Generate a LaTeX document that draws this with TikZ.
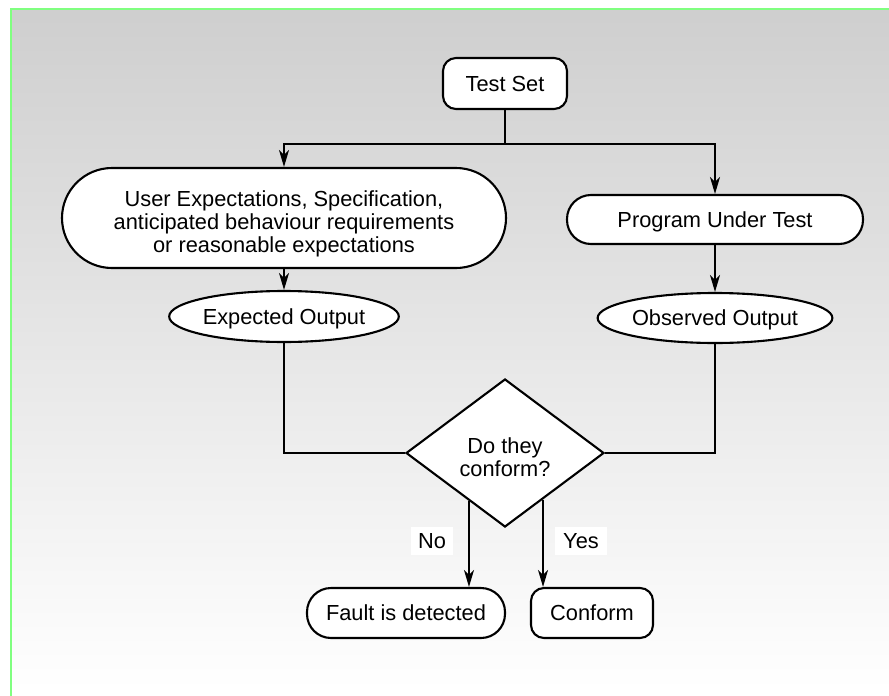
\documentclass[tikz,border=0pt]{standalone}
\usepackage{fontspec}
\setmainfont{Liberation Sans}
\usetikzlibrary{shapes.geometric,arrows.meta,calc}
\definecolor{frameGreen}{RGB}{128,255,128}
\tikzset{
  box/.style={draw=black, fill=white, line width=2.1pt, inner sep=0pt, align=center,
    text depth=0pt, font=\fontsize{21.8}{22.8}\selectfont},
  roundbox/.style={box, rectangle, rounded corners=13pt},
  pill/.style={box, rectangle, rounded corners=24pt},
  bigpill/.style={box, rectangle, rounded corners=50pt},
  oval/.style={box, ellipse},
  decision/.style={box, diamond},
  flow/.style={line width=2.1pt, draw=black},
  arrow/.style={flow, -{Stealth[length=17pt, width=10pt, inset=5pt]}},
  tag/.style={fill=white, inner sep=0pt, minimum height=28pt, text depth=0pt,
    font=\fontsize{21.8}{22.8}\selectfont}
}
\begin{document}
\begin{tikzpicture}[x=1pt, y=-1pt]
  \useasboundingbox (0,0) rectangle (889,696);
  % backdrop panel with a vertical grey gradient
  \fill[white] (0,0) rectangle (889,696);
  \shade[top color=black!19, bottom color=white] (11,9) rectangle (889,690);
  \draw[frameGreen, line width=2.5pt] (11,696) -- (11,9) -- (889,9);

  % nodes
  \node[roundbox, minimum width=124pt, minimum height=51pt] (ts) at (505,83.5) {Test Set};
  \node[bigpill, minimum width=444pt, minimum height=100pt, text height=68pt] (ue) at (284,218)
    {User Expectations, Specification,\\anticipated behaviour requirements\\or reasonable expectations};
  \node[pill, minimum width=296pt, minimum height=49pt] (put) at (715,219.5) {Program Under Test};
  \node[oval, minimum width=228pt, minimum height=51pt] (eo) at (284,316.5) {Expected Output};
  \node[oval, minimum width=223pt, minimum height=50pt] (oo) at (715,318) {Observed Output};
  \node[decision, minimum width=198pt, minimum height=148pt, aspect=1.34, text height=47pt]
    (dm) at (505,453) {Do they\\conform?};
  \node[pill, minimum width=198pt, minimum height=50pt] (fd) at (406,613) {Fault is detected};
  \node[roundbox, minimum width=122pt, minimum height=50pt] (cf) at (592,613) {Conform};

  % connectors
  \coordinate (split) at (505,144);
  \draw[flow] (ts.south) -- (split);
  \draw[arrow] (split) -| (ue.north);
  \draw[arrow] (split) -| (put.north);
  \draw[arrow] (ue.south) -- (eo.north);
  \draw[arrow] (put.south) -- (oo.north);
  \draw[flow] (eo.south) |- (dm.west);
  \draw[flow] (oo.south) |- (dm.east);
  \coordinate (noStart) at ($(dm.south)!0.36!(dm.west)$);
  \coordinate (yesStart) at ($(dm.south)!0.38!(dm.east)$);
  \draw[arrow] (noStart) -- (noStart |- fd.north);
  \draw[arrow] (yesStart) -- (yesStart |- cf.north);

  % branch labels
  \node[tag, minimum width=42pt] (no) at (432,541) {No};
  \node[tag, minimum width=52pt] (yes) at (581,541) {Yes};
\end{tikzpicture}
\end{document}
